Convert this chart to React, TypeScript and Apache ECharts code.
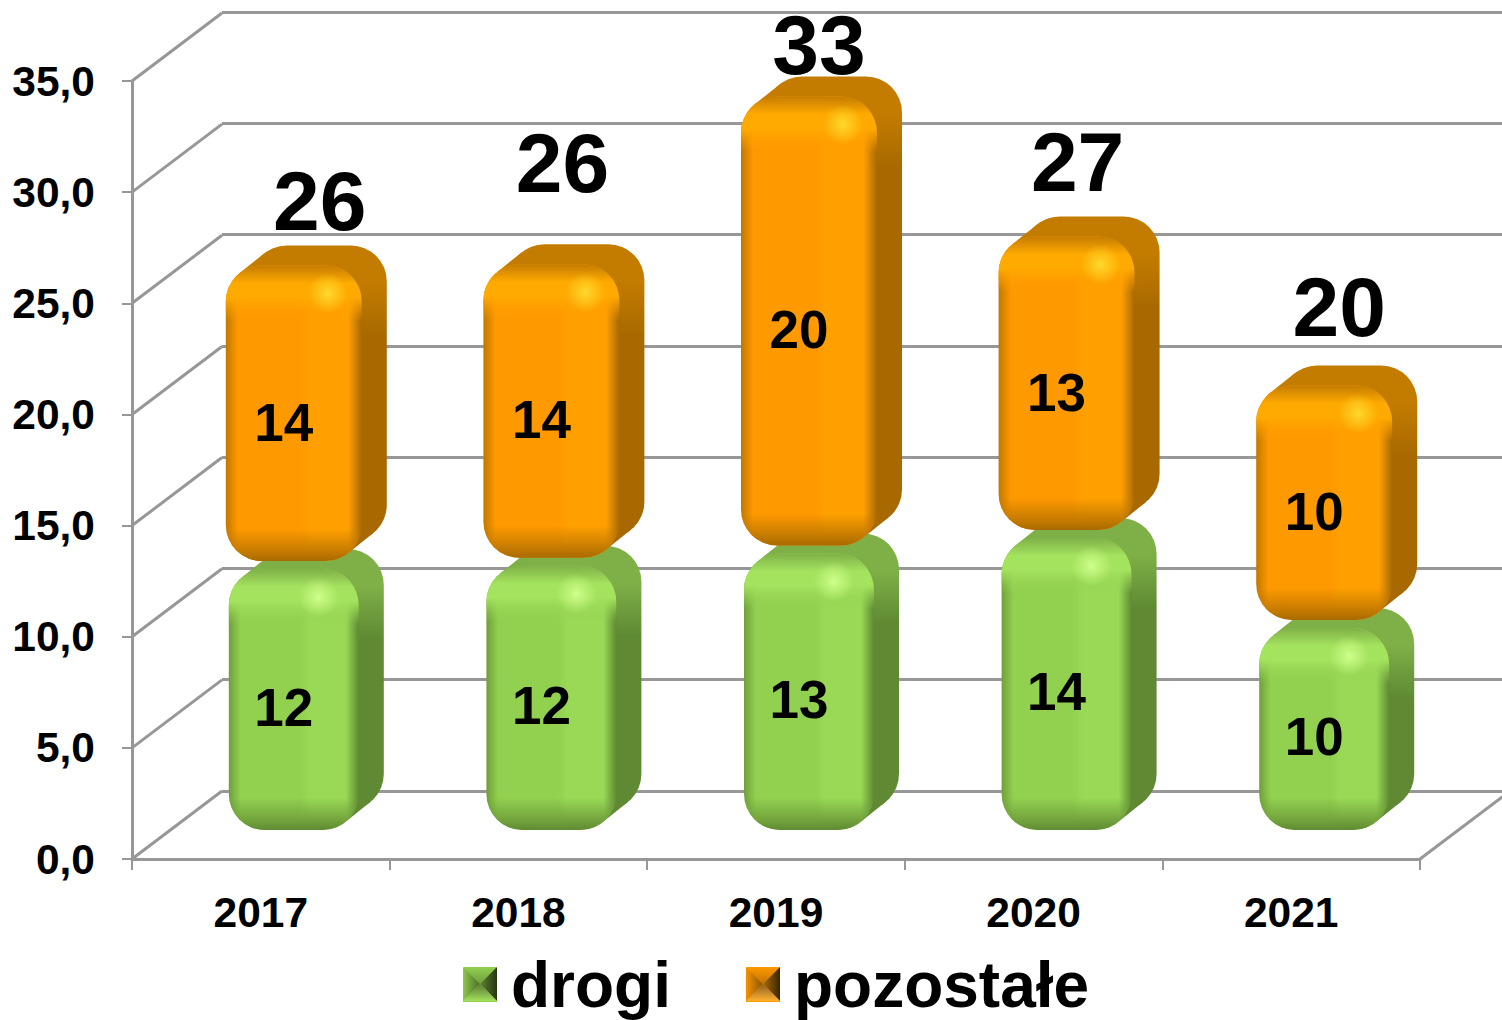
import React, { useEffect, useRef } from "react";
import * as echarts from "echarts";

const years = ["2017", "2018", "2019", "2020", "2021"];
const drogi = [12.1, 12.25, 12.8, 13.5, 9.45];
const pozostale = [13.3, 13.2, 20.2, 13.2, 10.55];
const drogiLabels = ["12", "12", "13", "14", "10"];
const pozostaleLabels = ["14", "14", "20", "13", "10"];
const totals = ["26", "26", "33", "27", "20"];
const yTicks = [0, 5, 10, 15, 20, 25, 30, 35];

// styling / placement (pixels), not data
const FONT = "Liberation Sans";
const GRAY = "#979797";
const DEPTH_X = 90;
const DEPTH_Y = -68;
const BAR_DX = 25;
const BAR_DY = -20;
const FLOOR_LIFT = 29;
const R = 36;
const totalShiftX = [59, 44, 43, 44, 48];
const totalLift = [44, 81, 31, 54, 58];

const greenPal = {
  main: "#92D050", light: "#99D956", band: "#A4E35E", hi: "#CFFF8C",
  side: "#5F8A33", top: "#7FB048", edge: "#6F9F3A",
};
const orangePal = {
  main: "#FF9900", light: "#FFA000", band: "#FFAA00", hi: "#FFD92E",
  side: "#A86A00", top: "#C47C00", edge: "#C07800",
};

const lin = (x: number, y: number, x2: number, y2: number, colorStops: any[]) => ({
  type: "linear", x, y, x2, y2, global: true, colorStops,
});
const stop = (offset: number, color: string) => ({ offset: Math.min(1, Math.max(0, offset)), color });

function barShape(api: any, opts: { base: number; val: number; dx: number; w: number; inset: number; hiDx: number; pal: any; label: string; labelDy: number }) {
  const { base, val, dx, w, inset, hiDx, pal, label, labelDy } = opts;
  const i = api.value(0);
  const cx = api.coord([i, 0])[0];
  const x0 = cx + dx;
  const yBottom = api.coord([i, base])[1] - FLOOR_LIFT;
  const yTop = api.coord([i, base + val])[1] - FLOOR_LIFT + inset;
  const h = yBottom - yTop;
  const nx = 0.625 * R;
  const ny = 0.78 * R;
  const sideFill = lin(0, yTop + BAR_DY, 0, yTop + 70, [
    stop(0, pal.top), stop(0.4, pal.top), stop(1, pal.side),
  ]);
  const tl = [x0 + R - nx, yTop + R - ny];
  const br = [x0 + w - R + nx, yBottom - R + ny];
  const hx = x0 + w - hiDx;
  const hy = yTop + 28;
  return {
    type: "group",
    children: [
      {
        type: "rect",
        shape: { x: x0 + BAR_DX, y: yTop + BAR_DY, width: w, height: h, r: R },
        style: { fill: sideFill },
      },
      {
        type: "polygon",
        shape: { points: [tl, [tl[0] + BAR_DX, tl[1] + BAR_DY], [x0 + w + BAR_DX - 2, yTop + BAR_DY + R], [br[0] + BAR_DX, br[1] + BAR_DY], br, [x0 + R, yBottom - R]] },
        style: { fill: sideFill },
      },
      {
        type: "rect",
        shape: { x: x0, y: yTop, width: w, height: h, r: R },
        style: {
          fill: lin(x0, 0, x0 + w, 0, [
            stop(0, pal.edge), stop(0.09, pal.main), stop(0.55, pal.main),
            stop(0.62, pal.light), stop(0.9, pal.light), stop(1, pal.side),
          ]),
        },
      },
      {
        type: "rect",
        shape: { x: x0, y: yTop, width: w, height: h, r: R },
        style: {
          fill: lin(0, yTop, 0, yBottom, [
            stop(0, pal.top), stop(18 / h, pal.band), stop(32 / h, pal.band),
            stop(56 / h, pal.main + "00"), stop(1 - 32 / h, pal.edge + "00"), stop(1 - 8 / h, pal.edge), stop(1, pal.side),
          ]),
        },
      },
      {
        type: "circle",
        shape: { cx: hx, cy: hy, r: 20 },
        style: {
          fill: {
            type: "radial", x: hx, y: hy, r: 20, global: true,
            colorStops: [stop(0, pal.hi), stop(0.3, pal.hi + "AA"), stop(1, pal.hi + "00")],
          },
        },
      },
      {
        type: "text",
        style: {
          text: label, x: cx + 23, y: (yTop + yBottom) / 2 + labelDy,
          align: "center", verticalAlign: "middle",
          fontFamily: FONT, fontWeight: "bold", fontSize: 53, fill: "#000",
        },
      },
    ],
  };
}

const tri = (points: number[][], colorStops: any[], x: number, y: number, x2: number, y2: number) => ({
  type: "polygon", z: 20, shape: { points },
  style: { fill: { type: "linear", x, y, x2, y2, colorStops } },
});
function legendIcon(x: number, y: number, s: number, c: any) {
  const m = [x + s / 2, y + s / 2];
  const a = [x, y], b = [x + s, y], d = [x + s, y + s], e = [x, y + s];
  return [
    tri([a, b, m], [stop(0, c.top), stop(1, c.mid)], 0, 0, 0, 1),
    tri([a, e, m], [stop(0, c.left), stop(1, c.leftIn)], 0, 0, 1, 0),
    tri([b, d, m], [stop(0, c.rightIn), stop(1, c.right)], 0, 0, 1, 0),
    tri([e, d, m], [stop(0, c.botIn), stop(1, c.bot)], 0, 0, 0, 1),
  ];
}

export default function App() {
  const ref = useRef<HTMLDivElement>(null);
  useEffect(() => {
    document.body.style.margin = "0";
    const chart = echarts.init(ref.current!, undefined, { renderer: "svg" });
    chart.setOption({
      animation: false,
      backgroundColor: "#ffffff",
      grid: [
        { left: 132, top: 81, width: 1288, height: 778 },
        { left: 222, top: 12, width: 1280, height: 779 },
      ],
      xAxis: [
        {
          type: "category", data: years, gridIndex: 0,
          axisLine: { lineStyle: { color: GRAY, width: 3 } },
          axisTick: { show: true, length: 11, lineStyle: { color: GRAY, width: 2 } },
          axisLabel: { color: "#000", fontFamily: FONT, fontWeight: "bold", fontSize: 42.5, margin: 32 },
        },
        { type: "value", gridIndex: 1, show: false, min: 0, max: 1 },
      ],
      yAxis: [
        {
          type: "value", gridIndex: 0, min: 0, max: 35, interval: 5,
          axisLine: { show: true, lineStyle: { color: GRAY, width: 3 } },
          axisTick: { show: true, length: 10, lineStyle: { color: GRAY, width: 2 } },
          splitLine: { show: false },
          axisLabel: {
            color: "#000", fontFamily: FONT, fontWeight: "bold", fontSize: 42.5, margin: 37,
            padding: [5, 0, 0, 0],
            formatter: (v: number) => v.toFixed(1).replace(".", ","),
          },
        },
        {
          type: "value", gridIndex: 1, min: 0, max: 35, interval: 5,
          axisLine: { show: false }, axisTick: { show: false }, axisLabel: { show: false },
          splitLine: { show: true, lineStyle: { color: GRAY, width: 3 } },
        },
      ],
      legend: {
        left: 458, top: 948, itemWidth: 34, itemHeight: 34, itemGap: 75,
        icon: "rect", data: ["drogi", "pozostałe"], selectedMode: false,
        textStyle: { color: "#000", fontFamily: FONT, fontWeight: "bold", fontSize: 64, padding: [0, 0, 0, 9] },
      },
      graphic: [
        ...legendIcon(463, 967, 34, { top: "#92D050", mid: "#6E9C3C", left: "#8DC84C", leftIn: "#4A6B28", rightIn: "#5D8431", right: "#253612", botIn: "#5A7A33", bot: "#A2E05C" }),
        ...legendIcon(746, 967, 34, { top: "#FF9900", mid: "#C07400", left: "#F59300", leftIn: "#8A5500", rightIn: "#A86A00", right: "#3A2400", botIn: "#8A6020", bot: "#FFB030" }),
      ],
      series: [
        {
          type: "custom", name: "ściany", silent: true, coordinateSystem: "cartesian2d",
          xAxisIndex: 0, yAxisIndex: 0, z: 1, clip: false,
          data: yTicks.map((t) => [0, t]),
          renderItem: (_: any, api: any) => {
            const p = api.coord([api.value(0), api.value(1)]);
            const x = p[0] - 128.8;
            const lines: any[] = [{
              type: "line",
              shape: { x1: x, y1: p[1], x2: x + DEPTH_X, y2: p[1] + DEPTH_Y },
              style: { stroke: GRAY, lineWidth: 3, fill: "none" },
            }];
            if (api.value(1) === 0) {
              lines.push({
                type: "line",
                shape: { x1: x + 1288, y1: p[1], x2: x + 1288 + DEPTH_X, y2: p[1] + DEPTH_Y },
                style: { stroke: GRAY, lineWidth: 3, fill: "none" },
              });
            }
            return { type: "group", children: lines };
          },
        },
        {
          type: "custom", name: "drogi", silent: true, coordinateSystem: "cartesian2d",
          xAxisIndex: 0, yAxisIndex: 0, z: 3, clip: false,
          itemStyle: { color: "#92D050" },
          data: drogi.map((v, i) => [i, v]),
          renderItem: (_: any, api: any) =>
            barShape(api, { base: 0, val: api.value(1), dx: -32, w: 130, inset: 8, hiDx: 40, pal: greenPal, label: drogiLabels[api.value(0)], labelDy: 8 }),
        },
        {
          type: "custom", name: "pozostałe", silent: true, coordinateSystem: "cartesian2d",
          xAxisIndex: 0, yAxisIndex: 0, z: 4, clip: false,
          itemStyle: { color: "#FF9900" },
          data: pozostale.map((v, i) => [i, drogi[i], v]),
          renderItem: (_: any, api: any) =>
            barShape(api, { base: api.value(1), val: api.value(2), dx: -35, w: 136, inset: 0, hiDx: 34, pal: orangePal, label: pozostaleLabels[api.value(0)], labelDy: 9 }),
        },
        {
          type: "custom", name: "suma", silent: true, coordinateSystem: "cartesian2d",
          xAxisIndex: 0, yAxisIndex: 0, z: 5, clip: false,
          data: pozostale.map((v, i) => [i, drogi[i] + v]),
          renderItem: (_: any, api: any) => {
            const i = api.value(0);
            const p = api.coord([i, api.value(1)]);
            return {
              type: "text",
              style: {
                text: totals[i], x: p[0] + totalShiftX[i],
                y: p[1] - FLOOR_LIFT + BAR_DY - totalLift[i],
                align: "center", verticalAlign: "middle",
                fontFamily: FONT, fontWeight: "bold", fontSize: 84, fill: "#000",
              },
            };
          },
        },
      ],
    });
    return () => chart.dispose();
  }, []);
  return <div ref={ref} style={{ position: "absolute", left: 0, top: 0, width: 1502, height: 1020 }} />;
}
